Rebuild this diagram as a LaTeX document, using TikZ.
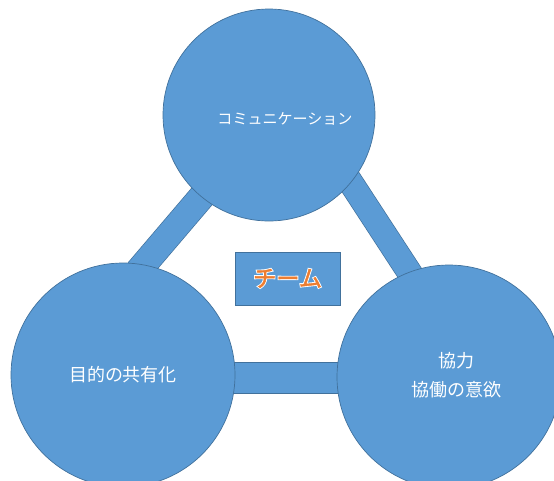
\documentclass[tikz,border=0pt]{standalone}
\usepackage{fontspec}
\setmainfont{Noto Sans CJK JP}
\usetikzlibrary{calc}
\definecolor{fillblue}{HTML}{5B9BD5}
\definecolor{edgeblue}{HTML}{41719C}
\definecolor{teamorange}{HTML}{ED7D31}
% orange letters with a white rim: white stroke first, orange letters on top
\newcommand{\rimtext}[1]{%
  \makebox[0pt][l]{\special{pdf:literal direct 1 Tr 1 1 1 RG 1.6 w}#1\special{pdf:literal direct 0 Tr}}%
  \special{pdf:literal direct 2 Tr 0.93 0.49 0.19 RG 0.3 w}#1\special{pdf:literal direct 0 Tr}}

\begin{document}
\begin{tikzpicture}[
    circ/.style={circle,draw=edgeblue,fill=fillblue,line width=0.5pt,inner sep=0pt},
    bar/.style={draw=edgeblue,line width=0.5pt,double=fillblue,line cap=butt},
    txt/.style={text=white,align=center}
  ]
      \useasboundingbox (0,0) rectangle (13.85,-12);
      % bars behind the circles
      \coordinate (tl) at (6.25,-3.5);
      \coordinate (lt) at (2.2,-8.25);
      \coordinate (tr) at (8.075,-3.5);
      \coordinate (rt) at (11.175,-8.25);
      \coordinate (lr) at (3.075,-9.45);
      \coordinate (rl) at (11.225,-9.45);
      \draw[bar,double distance=0.64cm] (tl) -- (lt);
      \draw[bar,double distance=0.60cm] (tr) -- (rt);
      \draw[bar,double distance=0.76cm] (lr) -- (rl);
      %
      \node[circ,minimum size=5.3cm] (comm) at (6.725,-2.875) {};
      \node[circ,minimum size=5.6cm] (goal) at (3.075,-9.375) {};
      \node[circ,minimum size=5.6cm] (coop) at (11.225,-9.425) {};
      \node[txt,font=\fontsize{10.7}{14}\selectfont] (commtext) at ($(comm.center)+(0.4,-0.1)$) {コミュニケーション};
      \node[txt,font=\fontsize{12.8}{14}\selectfont] (goaltext) at (goal.center) {目的の共有化};
      \node[txt,font=\fontsize{12.8}{21}\selectfont] (cooptext) at ($(coop.center)+(0.18,0.05)$) {協力\\協働の意欲};
      %
      \node[draw=edgeblue,fill=fillblue,line width=0.5pt,minimum width=2.625cm,minimum height=1.325cm,
            text=teamorange,font=\fontsize{16.5}{18}\selectfont] (team) at (7.19,-6.96) {\rimtext{チーム}};
    \end{tikzpicture}
\end{document}
